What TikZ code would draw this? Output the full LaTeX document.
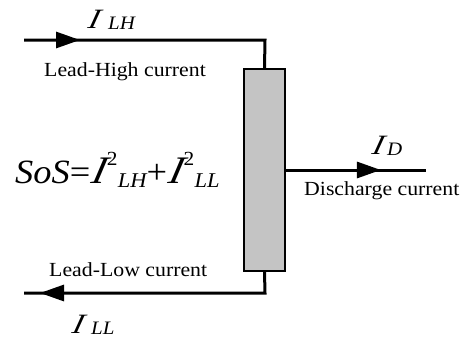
\documentclass[tikz,border=0pt]{standalone}
\usepackage{fontspec}
\setmainfont{Liberation Serif}
\newfontfamily\slantI{Liberation Serif}[FakeSlant=0.22]
\usetikzlibrary{arrows.meta,decorations.markings}
\newcommand{\fs}[1]{\fontsize{#1}{#1}\selectfont}
\newcommand{\bigI}{\scalebox{1.15}[1]{\fs{28}\slantI\itshape I}}
\newcommand{\Ilab}[2]{\rlap{\bigI}\hspace{#1}\raisebox{-1.5pt}{\scalebox{1.1}[1]{\fs{19}\itshape #2}}}
\newcommand{\wtxt}[1]{\scalebox{1.09}[1]{\fs{20}#1}}
\newcommand{\Isq}[1]{{\fs{39}\slantI\itshape I}\kern2.5pt\raisebox{18pt}{\fs{20}\upshape 2}\hspace{0.3pt}\raisebox{-4pt}{\fs{21}#1}}
\tikzset{
  tri/.tip={Triangle[length=24pt,width=16pt]},
  wire/.style={line width=3pt},
  lbl/.style={anchor=base west,inner sep=0pt},
  cur/.style={anchor=base west,inner sep=0pt},
  resistor/.style={draw,line width=1.8pt,fill={rgb,255:red,196;green,196;blue,196},minimum width=41pt,minimum height=202pt,inner sep=0pt}
}
\begin{document}
\begin{tikzpicture}[x=1pt,y=-1pt]
\useasboundingbox (0,0) rectangle (472,343);
\node[resistor] (box) at (264.5,170) {};
\coordinate (tl) at (24,40);
\coordinate (tr) at (265,40);
\coordinate (bl) at (24,293);
\coordinate (br) at (265,293);
\coordinate (dr) at (426,170);
\draw[wire,postaction={decorate},decoration={markings,mark=at position 56pt with {\arrow{tri}}}]
  (tl) -- (tr) -- (box.north);
\draw[wire,postaction={decorate},decoration={markings,mark=at position -16pt with {\arrow{tri}}}]
  (box.south) -- (br) -- (bl);
\draw[wire,postaction={decorate},decoration={markings,mark=at position 95pt with {\arrow{tri}}}]
  (box.east) -- (dr);
\node[cur] (ilh) at (87,28) {\Ilab{21pt}{LH}};
\node[lbl] (lh) at (44,76) {\wtxt{Lead-High current}};
\node[lbl] (ll) at (49,276) {\wtxt{Lead-Low current}};
\node[cur] (ill) at (71,333) {\Ilab{20pt}{LL}};
\node[cur] (id) at (371,154) {\Ilab{16pt}{D}};
\node[lbl] (dc) at (304,195) {\wtxt{Discharge current}};
\node[cur] (sos) at (15,183) {\scalebox{1.07}[1]{\fs{34}\itshape SoS{\upshape =}\Isq{LH}{\upshape +}\Isq{LL}}};
\end{tikzpicture}
\end{document}
